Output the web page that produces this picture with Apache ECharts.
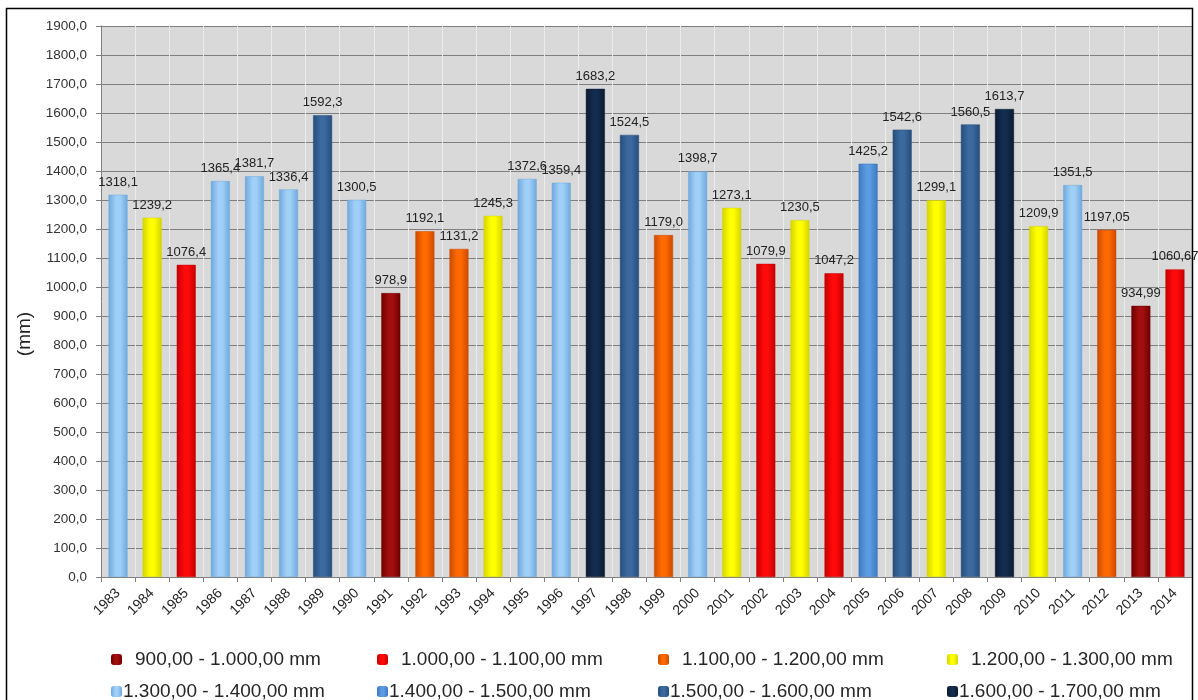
<!DOCTYPE html>
<html>
<head>
<meta charset="utf-8">
<script src="https://cdn.jsdelivr.net/npm/echarts@6/dist/echarts.min.js"></script>
<style>
html,body{margin:0;padding:0;background:#fff;}
#chart{width:1198px;height:700px;}
</style>
</head>
<body>
<div id="chart"></div>
<script>
const years = ['1983','1984','1985','1986','1987','1988','1989','1990','1991','1992','1993','1994','1995','1996','1997','1998','1999','2000','2001','2002','2003','2004','2005','2006','2007','2008','2009','2010','2011','2012','2013','2014'];
const rainfall = [1318.1,1239.2,1076.4,1365.4,1381.7,1336.4,1592.3,1300.5,978.9,1192.1,1131.2,1245.3,1372.6,1359.4,1683.2,1524.5,1179.0,1398.7,1273.1,1079.9,1230.5,1047.2,1425.2,1542.6,1299.1,1560.5,1613.7,1209.9,1351.5,1197.05,934.99,1060.67];
const valueLabels = ['1318,1','1239,2','1076,4','1365,4','1381,7','1336,4','1592,3','1300,5','978,9','1192,1','1131,2','1245,3','1372,6','1359,4','1683,2','1524,5','1179,0','1398,7','1273,1','1079,9','1230,5','1047,2','1425,2','1542,6','1299,1','1560,5','1613,7','1209,9','1351,5','1197,05','934,99','1060,67'];
const classNames = ['900,00 - 1.000,00 mm','1.000,00 - 1.100,00 mm','1.100,00 - 1.200,00 mm','1.200,00 - 1.300,00 mm','1.300,00 - 1.400,00 mm','1.400,00 - 1.500,00 mm','1.500,00 - 1.600,00 mm','1.600,00 - 1.700,00 mm'];
const classLower = [900,1000,1100,1200,1300,1400,1500,1600];
const classUpper = [1000,1100,1200,1300,1400,1500,1600,1700];
const classColors = ['#a30f0f','#ff0a0a','#ff6a00','#ffff00','#a0d0f8','#5b9be0','#3b6aa0','#142c4f'];
const classEdges  = ['#6e0000','#c40000','#cc4a00','#d4d400','#6fa8dc','#3d78c0','#274d7a','#0a1a30'];

const chart = echarts.init(document.getElementById('chart'));
const font = 'Liberation Sans, Arial, sans-serif';

function grad(i){
  return new echarts.graphic.LinearGradient(0,0,1,0,[
    {offset:0,color:classEdges[i]},
    {offset:0.4,color:classColors[i]},
    {offset:0.6,color:classColors[i]},
    {offset:1,color:classEdges[i]}
  ]);
}

const series = classNames.map((name,i)=>({
  name:name,
  type:'bar',
  barWidth:19,
  barGap:'-100%',
  data: rainfall.map(v => (v>=classLower[i] && v<classUpper[i]) ? v : '-'),
  itemStyle:{color:grad(i), borderColor:classEdges[i], borderWidth:0.5},
  label:{
    show:true, position:'top', distance:6,
    fontFamily:font, fontSize:13, color:'#222',
    formatter:p=>valueLabels[p.dataIndex]
  }
}));

const colLeft = [106,372,653,942];
const legends = classNames.map((name,i)=>({
  data:[{name:name, itemStyle:{borderWidth:0}}],
  left: colLeft[i%4],
  top: i<4 ? 645 : 677,
  itemWidth:11, itemHeight:11, itemGap:5,
  textStyle:{fontFamily:font, fontSize:19, color:'#262626', padding: i<4 ? [0,0,0,8] : [0,0,0,-4]},
  selectedMode:false
}));

chart.setOption({
  animation:false,
  backgroundColor:'#fff',
  textStyle:{fontFamily:font},
  grid:{left:101, right:6, top:26, bottom:123, show:true, backgroundColor:'#d9d9d9', borderWidth:0},
  legend:legends,
  xAxis:{
    type:'category',
    data:years,
    axisLine:{show:true, lineStyle:{color:'#808080'}},
    axisTick:{show:true, lineStyle:{color:'#808080'}},
    splitLine:{show:true, lineStyle:{color:'#ececec', width:1}},
    axisLabel:{rotate:45, fontSize:14, color:'#222', fontFamily:font, margin:14, interval:0}
  },
  yAxis:{
    type:'value',
    min:0, max:1900, interval:100,
    axisLine:{show:true, lineStyle:{color:'#808080'}},
    axisTick:{show:true, lineStyle:{color:'#808080'}},
    splitLine:{show:true, lineStyle:{color:'#7f7f7f', width:1}},
    axisLabel:{fontSize:13.5, color:'#333', fontFamily:font, margin:14,
      formatter:v=>v.toFixed(1).replace('.',',')}
  },
  series:series,
  graphic:[{
    type:'text', silent:true,
    x:25, y:334, rotation:Math.PI/2,
    style:{text:'(mm)', fontFamily:font, fontSize:19, fill:'#222', align:'center', verticalAlign:'middle'}
  },{
    type:'rect', silent:true, z:100,
    shape:{x:6.5, y:8.5, width:1186, height:700},
    style:{fill:'none', stroke:'#000', lineWidth:1.5}
  }]
});
</script>
</body>
</html>
